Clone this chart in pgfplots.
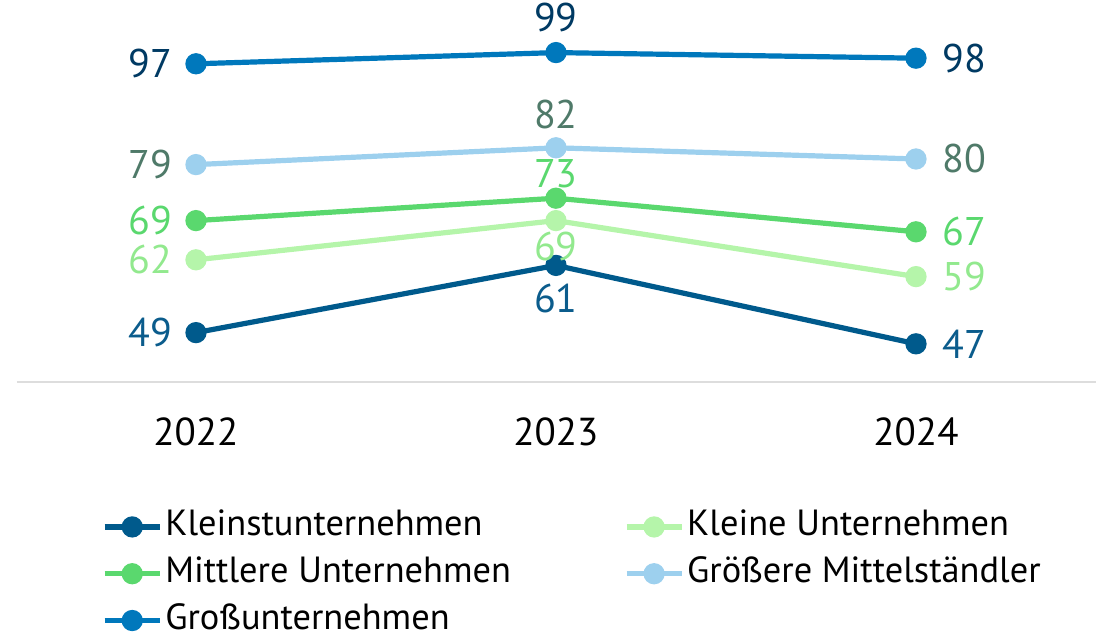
\documentclass[border=0pt]{standalone}
\usepackage{fontspec}
\setmainfont{PT Sans}
\usepackage{pgfplots}
\pgfplotsset{compat=1.18}

\definecolor{cKleinst}{HTML}{005A8C}
\definecolor{cKleine}{HTML}{B5F5AA}
\definecolor{cMittlere}{HTML}{5AD86E}
\definecolor{cGroesser}{HTML}{9DD0EE}
\definecolor{cGross}{HTML}{0078BC}
\definecolor{lKleinst}{HTML}{0B5C8C}
\definecolor{lKleine}{HTML}{92E98E}
\definecolor{lMittlere}{HTML}{5AD86E}
\definecolor{lGroesser}{HTML}{4F7A69}
\definecolor{lGross}{HTML}{003A63}
\definecolor{cBase}{HTML}{DDDDDD}

\begin{document}
\fontsize{18}{22}\selectfont
\begin{tikzpicture}
\begin{axis}[
  scale only axis,
  width=553pt, height=191pt,
  xmin=-0.5444, xmax=2.5278,
  ymin=40.18, ymax=108.39,
  clip=false,
  axis line style={draw=none},
  tick style={draw=none},
  ytick=\empty,
  xtick={0,1,2},
  xticklabels={2022,2023,2024},
  xticklabel style={anchor=center, yshift=-25pt, inner sep=0pt,
    font=\fontsize{19.5}{22}\selectfont},
  /pgf/number format/assume math mode=true,
  every axis plot/.append style={line width=2.6pt, mark=*, mark size=4pt},
  nodes near coords,
  every node near coord/.append style={inner sep=0pt, font=\fontsize{20}{24}\selectfont},
  coordinate style/.condition={x==0}{anchor=east, xshift=-10.5pt},
  coordinate style/.condition={x==2}{anchor=west, xshift=12pt},
  legend columns=2,
  legend style={draw=none, fill=none, inner sep=0pt,
    at={(axis description cs:0.092,-0.326)}, anchor=north west,
    cells={anchor=west},
    nodes={inner sep=1.5pt, text height=13pt, text depth=4pt},
    row sep=3.4pt,
    /tikz/every even column/.append style={column sep=55pt},
    font=\fontsize{18.2}{22}\selectfont},
  legend image code/.code={\draw[mark repeat=2, mark phase=2, #1]
    plot coordinates {(0pt,0pt) (13.75pt,0pt) (27.5pt,0pt)};},
]
\draw[cBase, line width=1pt] (axis cs:-0.4972,40.18) -- (axis cs:2.5,40.18);

\addplot[color=cKleinst, every node near coord/.append style={text=lKleinst},
  coordinate style/.condition={x==1}{anchor=north, yshift=-8pt}]
  coordinates {(0,49) (1,61) (2,47)};
\addlegendentry{Kleinstunternehmen}
\addplot[color=cKleine, every node near coord/.append style={text=lKleine},
  coordinate style/.condition={x==1}{anchor=north, yshift=-4.5pt}]
  coordinates {(0,62) (1,69) (2,59)};
\addlegendentry{Kleine Unternehmen}
\addplot[color=cMittlere, every node near coord/.append style={text=lMittlere},
  coordinate style/.condition={x==1}{anchor=south, yshift=4pt}]
  coordinates {(0,69) (1,73) (2,67)};
\addlegendentry{Mittlere Unternehmen}
\addplot[color=cGroesser, every node near coord/.append style={text=lGroesser},
  coordinate style/.condition={x==1}{anchor=south, yshift=8pt}]
  coordinates {(0,79) (1,82) (2,80)};
\addlegendentry{Größere Mittelständler}
\addplot[color=cGross, every node near coord/.append style={text=lGross},
  coordinate style/.condition={x==1}{anchor=south, yshift=9pt}]
  coordinates {(0,97) (1,99) (2,98)};
\addlegendentry{Großunternehmen}
\end{axis}
\end{tikzpicture}
\end{document}
